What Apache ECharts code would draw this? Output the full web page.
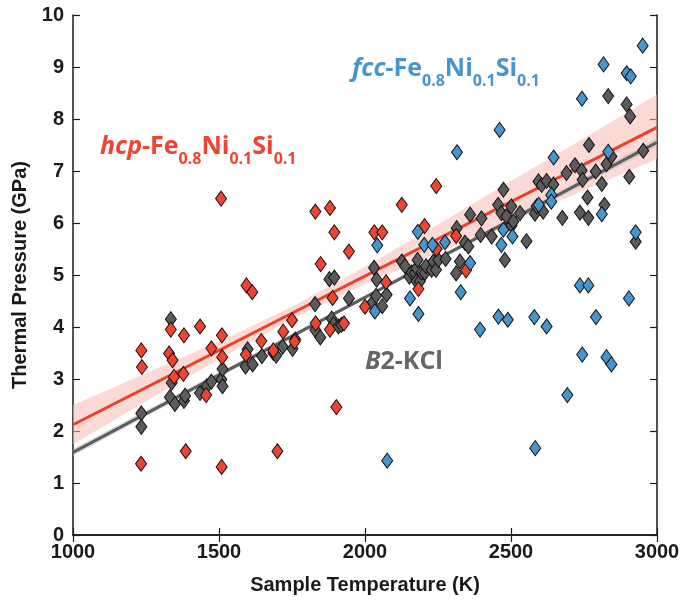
<!DOCTYPE html>
<html>
<head>
<meta charset="utf-8">
<script src="https://cdn.jsdelivr.net/npm/echarts@6/dist/echarts.min.js"></script>
<style>
html,body{margin:0;padding:0;background:#fff;}
#chart{width:696px;height:600px;}
</style>
</head>
<body>
<div id="chart"></div>
<script>
// ---- data ----
// hcp-Fe0.8Ni0.1Si0.1 : [Temperature K, Thermal pressure GPa]
const hcpData = [
  [1233,1.37],[1234,3.55],[1236,3.23],[1329,3.49],[1335,3.95],[1341,3.36],[1346,3.04],[1378,3.10],
  [1380,3.84],[1386,1.61],[1435,4.01],[1456,2.69],[1474,3.59],[1507,6.47],[1509,1.31],[1510,3.84],
  [1511,3.42],[1592,3.47],[1594,4.80],[1614,4.67],[1645,3.73],[1686,3.55],[1700,1.61],[1720,3.91],
  [1750,4.13],[1759,3.72],[1830,6.22],[1831,4.07],[1848,5.21],[1880,6.29],[1880,3.95],[1889,4.56],
  [1895,5.82],[1902,2.46],[1928,4.07],[1945,5.45],[2000,4.39],[2032,5.82],[2059,5.82],[2072,4.86],
  [2126,6.35],[2183,4.73],[2204,5.94],[2245,5.50],[2244,6.71],[2312,5.75],[2346,5.09]
];
// B2-KCl
const kclData = [
  [1234,2.34],[1234,2.08],[1332,2.65],[1335,4.15],[1338,2.93],[1349,2.52],[1380,2.58],[1384,2.68],
  [1435,2.73],[1458,2.86],[1474,2.95],[1508,2.99],[1512,2.86],[1512,3.19],[1591,3.24],[1598,3.57],
  [1615,3.28],[1647,3.44],[1686,3.50],[1696,3.45],[1718,3.62],[1752,3.58],[1761,3.76],[1829,4.44],
  [1830,3.94],[1847,3.80],[1878,4.92],[1895,4.95],[1886,4.16],[1892,4.05],[1909,4.01],[1919,4.04],
  [1945,4.55],[2023,4.45],[2031,5.14],[2040,4.91],[2038,4.60],[2059,4.40],[2074,4.62],[2126,5.26],
  [2137,5.17],[2152,4.97],[2160,5.05],[2171,5.04],[2176,5.13],[2176,4.88],[2180,5.29],[2188,4.88],
  [2194,5.05],[2205,5.04],[2209,5.17],[2228,5.10],[2234,5.26],[2243,5.10],[2251,5.29],[2276,5.31],
  [2312,5.03],[2314,5.90],[2325,5.26],[2342,5.62],[2354,5.55],[2360,6.16],[2396,5.77],[2399,6.09],
  [2434,5.74],[2456,6.35],[2467,6.19],[2474,6.64],[2479,5.29],[2484,6.13],[2501,6.32],[2502,5.95],
  [2508,6.03],[2531,6.19],[2553,5.65],[2582,6.18],[2588,6.32],[2594,6.80],[2605,6.73],[2610,6.22],
  [2622,6.81],[2645,6.74],[2676,6.10],[2690,6.96],[2719,7.11],[2736,6.20],[2742,7.01],[2745,6.83],
  [2762,6.49],[2765,6.10],[2767,7.50],[2790,6.99],[2811,6.75],[2820,6.35],[2827,7.13],[2833,8.44],
  [2844,7.28],[2896,8.28],[2905,6.89],[2908,8.05],[2927,5.64],[2953,7.39]
];
// fcc-Fe0.8Ni0.1Si0.1
const fccData = [
  [2034,4.30],[2042,5.57],[2076,1.43],[2154,4.55],[2183,4.25],[2181,5.83],[2203,5.58],[2231,5.58],
  [2274,5.63],[2315,7.36],[2328,4.67],[2360,5.23],[2394,3.95],[2457,4.20],[2461,7.79],[2467,5.58],
  [2474,5.87],[2489,4.14],[2505,5.74],[2580,4.19],[2583,1.67],[2595,6.35],[2622,4.01],[2638,6.54],
  [2638,6.41],[2646,7.26],[2693,2.69],[2736,4.80],[2743,8.39],[2744,3.47],[2765,4.80],[2791,4.19],
  [2811,6.17],[2817,9.05],[2827,3.42],[2833,7.37],[2844,3.28],[2896,8.88],[2904,4.55],[2910,8.82],
  [2927,5.82],[2951,9.41]
];
// fitted lines and confidence bands
const bandT      = [1000, 1250, 1500, 1750, 2000, 2250, 2500, 2750, 3000];
const hcpUpper   = [2.50, 3.11, 3.72, 4.39, 5.16, 5.97, 6.81, 7.63, 8.47];
const hcpLower   = [1.74, 2.57, 3.38, 4.15, 4.82, 5.43, 6.03, 6.63, 7.23];
const kclUpper   = [1.66, 2.40, 3.13, 3.87, 4.60, 5.35, 6.11, 6.86, 7.63];
const kclLower   = [1.52, 2.28, 3.03, 3.79, 4.54, 5.27, 6.01, 6.74, 7.47];
const hcpFitT    = [1000, 3000];
const hcpFitP    = [2.12, 7.84];
const kclFitT    = [1000, 3000];
const kclFitP    = [1.59, 7.55];
const xTicks     = [1000, 1500, 2000, 2500, 3000];
const yTicks     = [0,1,2,3,4,5,6,7,8,9,10];

const RED = '#ef4430', BLUE = '#4596cc', GRAY = '#5b5b5b';

const chart = echarts.init(document.getElementById('chart'), null, {renderer:'canvas'});

function bandSeries(upper, lower, color) {
  return {
    type: 'custom',
    silent: true,
    z: 1,
    data: [0],
    renderItem: function (params, api) {
      const pts = [];
      for (let i = 0; i < bandT.length; i++) pts.push(api.coord([bandT[i], upper[i]]));
      for (let i = bandT.length - 1; i >= 0; i--) pts.push(api.coord([bandT[i], lower[i]]));
      return { type: 'polygon', shape: { points: pts }, style: { fill: color } };
    },
    clip: true
  };
}

const zip = (a, b) => a.map((v, i) => [v, b[i]]);

const axisLineStyle = { color: '#1a1a1a', width: 1.5 };
const labelFont = { fontFamily: 'Liberation Sans, Arial, sans-serif', fontWeight: 'bold', fontSize: 20, color: '#1a1a1a' };
const tickStyle = { inside: true, length: 7, lineStyle: { color: '#1a1a1a', width: 1.2 } };

function richFor(color) {
  return {
    i: { fontFamily: 'Open Sans', fontStyle: 'italic', fontWeight: 'bold', fontSize: 25, lineHeight: 41, fill: color },
    m: { fontFamily: 'Open Sans', fontWeight: 'bold', fontSize: 25, lineHeight: 41, fill: color },
    s: { fontFamily: 'Open Sans', fontWeight: 'bold', fontSize: 16, lineHeight: 17, verticalAlign: 'bottom', fill: color }
  };
}

const option = {
  animation: false,
  backgroundColor: '#fff',
  grid: { left: 73, right: 39, top: 15, bottom: 64, containLabel: false },
  xAxis: [{
    type: 'value', min: xTicks[0], max: xTicks[xTicks.length-1], interval: 500,
    name: 'Sample Temperature (K)', nameLocation: 'middle', nameGap: 40,
    nameTextStyle: labelFont,
    axisLine: { lineStyle: axisLineStyle },
    axisTick: tickStyle,
    axisLabel: Object.assign({ margin: 7, formatter: v => String(v) }, labelFont),
    splitLine: { show: false }
  }, {
    type: 'value', position: 'top', min: xTicks[0], max: xTicks[xTicks.length-1], interval: 500,
    axisLine: { show: true, lineStyle: axisLineStyle },
    axisTick: tickStyle,
    axisLabel: { show: false }, splitLine: { show: false }
  }],
  yAxis: [{
    type: 'value', min: yTicks[0], max: yTicks[yTicks.length-1], interval: 1,
    name: 'Thermal Pressure (GPa)', nameLocation: 'middle', nameGap: 41,
    nameTextStyle: labelFont,
    axisLine: { show: true, lineStyle: axisLineStyle },
    axisTick: Object.assign({ show: true }, tickStyle),
    axisLabel: Object.assign({ margin: 9 }, labelFont),
    splitLine: { show: false }
  }, {
    type: 'value', position: 'right', min: yTicks[0], max: yTicks[yTicks.length-1], interval: 1,
    axisLine: { show: true, lineStyle: axisLineStyle },
    axisTick: Object.assign({ show: true }, tickStyle),
    axisLabel: { show: false }, splitLine: { show: false }
  }],
  series: [
    bandSeries(hcpUpper, hcpLower, 'rgba(248,185,178,0.55)'),
    bandSeries(kclUpper, kclLower, 'rgba(180,180,180,0.45)'),
    { type: 'line', data: zip(kclFitT, kclFitP), symbol: 'none', z: 2,
      lineStyle: { color: '#5e5e5e', width: 3 } },
    { type: 'line', data: zip(hcpFitT, hcpFitP), symbol: 'none', z: 2,
      lineStyle: { color: '#ee3f2b', width: 3 } },
    { type: 'scatter', data: kclData, symbol: 'diamond', symbolSize: [11, 15], z: 3,
      itemStyle: { color: GRAY, borderColor: '#111', borderWidth: 1, opacity: 1 } },
    { type: 'scatter', data: hcpData, symbol: 'diamond', symbolSize: [11, 15], z: 3,
      itemStyle: { color: RED, borderColor: '#111', borderWidth: 1, opacity: 1 } },
    { type: 'scatter', data: fccData, symbol: 'diamond', symbolSize: [11, 15], z: 3,
      itemStyle: { color: BLUE, borderColor: '#111', borderWidth: 1, opacity: 1 } }
  ],
  graphic: [
    { type: 'text', left: 100, top: 134, z: 10, style: {
        text: '{i|hcp}{m|-Fe}{s|0.8}{m|Ni}{s|0.1}{m|Si}{s|0.1}', rich: richFor(RED) } },
    { type: 'text', left: 352, top: 56, z: 10, style: {
        text: '{i|fcc}{m|-Fe}{s|0.8}{m|Ni}{s|0.1}{m|Si}{s|0.1}', rich: richFor(BLUE) } },
    { type: 'text', left: 365, top: 349, z: 10, style: {
        text: '{i|B}{m|2-KCl}', rich: richFor('#666666') } }
  ]
};
chart.setOption(option);
</script>
</body>
</html>
